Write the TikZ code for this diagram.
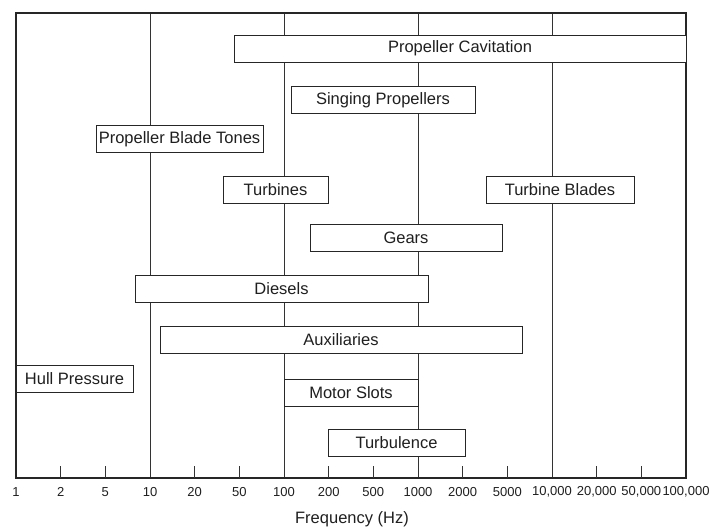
\documentclass[tikz,border=0pt]{standalone}
\usepackage{fontspec}
\setmainfont{Liberation Sans}
\begin{document}
\begin{tikzpicture}[x=1pt,y=-1pt,
  bar/.style={draw=black!85, fill=white, line width=0.95pt, inner sep=0pt,
    minimum height=27pt, font=\fontsize{16.5}{18}\selectfont, text=black!88},
  gridline/.style={draw=black!80, line width=0.95pt},
  frameline/.style={draw=black!85, line width=1.2pt},
  ticklbl/.style={font=\fontsize{13}{15}\selectfont, text=black!88, inner sep=0pt}]
\useasboundingbox (0,0) rectangle (711,530);
% decade coordinates
\foreach \i in {0,...,5} {
  \coordinate (b\i) at ({16+134*\i},478);
  \coordinate (t\i) at ({16+134*\i},13);
}
% vertical decade lines
\foreach \i in {1,...,4} \draw[gridline] (b\i) -- (t\i);
% frame
\draw[frameline] (t0) -- (t5) -- (b5) -- (b0) -- cycle;
% minor ticks
\foreach \k in {1,2,4,5,7,8,10,11,13,14} {
  \coordinate (tk\k) at ({16+134*\k/3},478);
  \coordinate (tt\k) at ({16+134*\k/3},466);
  \draw[gridline] (tk\k) -- (tt\k);
}
% tick labels
\foreach \lbl [count=\k from 0] in {1,2,5,10,20,50,100,200,500,1000,2000,5000,{10,000},{20,000},{50,000},{100,000}}
  \node[ticklbl] (l\k) at ({16+134*\k/3},492) {\lbl};
\node[font=\fontsize{16.5}{18}\selectfont, text=black!88] (xlabel) at (352,519) {Frequency (Hz)};
% bars
\node[bar, minimum width=452pt] (cav) at (460,48.5) {Propeller Cavitation};
\node[bar, minimum width=184pt] (sing) at (383,100) {Singing Propellers};
\node[bar, minimum width=167pt] (blade) at (179.5,139) {Propeller Blade Tones};
\node[bar, minimum width=105pt] (turb) at (275.5,189.5) {Turbines};
\node[bar, minimum width=148pt] (tblade) at (560,189.5) {Turbine Blades};
\node[bar, minimum width=192pt] (gears) at (406,238) {Gears};
\node[bar, minimum width=293pt] (diesel) at (281.5,288.5) {Diesels};
\node[bar, minimum width=362pt] (aux) at (341,340) {Auxiliaries};
\node[bar, minimum width=117pt] (hull) at (74.5,379) {Hull Pressure};
\node[bar, minimum width=134pt] (motor) at (351,392.5) {Motor Slots};
\node[bar, minimum width=137pt] (turbul) at (396.5,442.5) {Turbulence};
\end{tikzpicture}
\end{document}
